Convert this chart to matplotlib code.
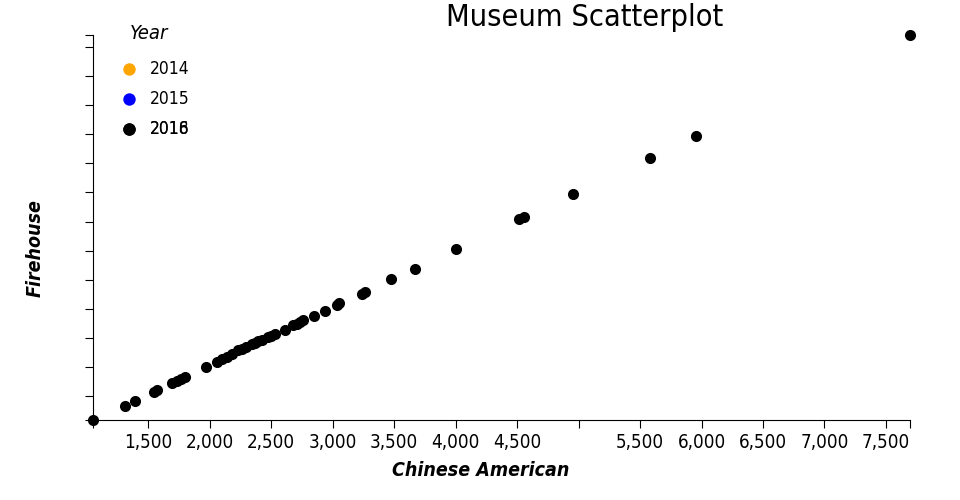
import matplotlib
matplotlib.use("Agg")
import matplotlib.pyplot as plt

plt.rcParams['font.family'] = ['DejaVu Sans']
plt.rcParams['font.stretch'] = 'condensed'

# Chinese American vs Firehouse
chinese_american = [1050, 1310, 1389, 1546, 1573, 1695, 1731, 1764, 1799, 1972,
                    2061, 2102, 2143, 2181, 2232, 2262, 2295, 2341, 2368, 2395,
                    2425, 2476, 2498, 2531, 2612, 2680, 2710, 2734, 2761, 2848,
                    2938, 3033, 3052, 3236, 3263, 3475, 3670, 4001, 4519, 4560,
                    4953, 5577, 5959, 7696]
firehouse = [1088, 1333, 1419, 1569, 1603, 1718, 1763, 1797, 1832, 1993,
             2089, 2131, 2175, 2222, 2290, 2316, 2350, 2388, 2416, 2445,
             2471, 2508, 2534, 2560, 2634, 2720, 2746, 2776, 2806, 2874,
             2960, 3063, 3093, 3252, 3287, 3505, 3687, 4020, 4536, 4580,
             4970, 5594, 5972, 7707]

years = ['2014', '2015', '2016', '2018']
year_colors = ['orange', 'blue', 'black', 'black']

x_ticks = [1500, 2000, 2500, 3000, 3500, 4000, 4500, 5000, 5500, 6000, 6500, 7000, 7500]
x_labels = ['1,500', '2,000', '2,500', '3,000', '3,500', '4,000', '4,500', '',
            '5,500', '6,000', '6,500', '7,000', '7,500']
y_ticks = [1500, 2000, 2500, 3000, 3500, 4000, 4500, 5000, 5500, 6000, 6500, 7000, 7500]

fig = plt.figure(figsize=(9.6, 5), dpi=100)
ax = fig.add_axes([93/960, 80/500, (910-93)/960, (420-35)/500])

ax.scatter(chinese_american, firehouse, s=64, color='black', clip_on=False, zorder=3, linewidths=0)

ax.set_xlim(min(chinese_american), max(chinese_american))
ax.set_ylim(min(firehouse), max(firehouse))

ax.spines['top'].set_visible(False)
ax.spines['right'].set_visible(False)
ax.set_xticks(x_ticks + [ax.get_xlim()[0], ax.get_xlim()[1]])
ax.set_xticklabels(x_labels + ['', ''])
ax.set_yticks(y_ticks + [ax.get_ylim()[0], ax.get_ylim()[1]])
ax.set_yticklabels([])
ax.tick_params(axis='x', length=6, labelsize=13.5, pad=3)
ax.tick_params(axis='y', length=6)

# titles placed in figure pixels like the reference
fig.text(481/960, 1 - 471/500, 'Chinese American', fontsize=14, fontweight='bold',
         style='italic', ha='center', va='center')
fig.text(35/960, 1 - 248/500, 'Firehouse', fontsize=14, fontweight='bold',
         style='italic', ha='center', va='center', rotation=90)
fig.text(585/960, 1 - 18/500, 'Museum Scatterplot', fontsize=22, ha='center', va='center')

# legend by hand, labels for 2016 and 2018 sit on top of each other
fig.text(130/960, 1 - 33/500, 'Year', fontsize=14.5, style='italic', va='center')
rows = [69, 99, 129, 129]
for yr, col, row in zip(years, year_colors, rows):
    ax.scatter([129/960], [1 - row/500], s=80, color=col, linewidths=0,
               transform=fig.transFigure, clip_on=False)
    fig.text(150/960, 1 - row/500, yr, fontsize=12.5, va='center')

fig.savefig('out.png', dpi=100)
